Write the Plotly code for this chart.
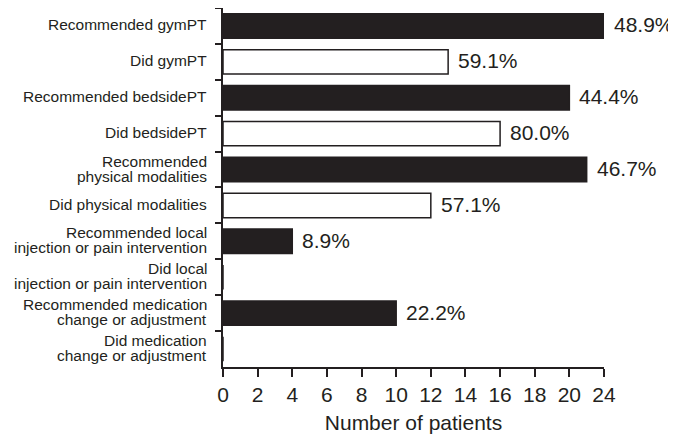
import plotly.graph_objects as go

# categories, top to bottom (lines of each label split with <br>)
categories = [
    "Recommended gymPT",
    "Did gymPT",
    "Recommended bedsidePT",
    "Did bedsidePT",
    "Recommended<br>physical modalities",
    "Did physical modalities",
    "Recommended local<br>injection or pain intervention",
    "Did local<br>injection or pain intervention",
    "Recommended medication<br>change or adjustment",
    "Did medication<br>change or adjustment",
]
patients = [22, 13, 20, 16, 21, 12, 4, 0, 10, 0]
pct_labels = ["48.9%", "59.1%", "44.4%", "80.0%", "46.7%", "57.1%", "8.9%", "", "22.2%", ""]
recommended = [True, False, True, False, True, False, True, False, True, False]

# the original axis skips 22 and labels the last tick 24
tick_vals = [0, 2, 4, 6, 8, 10, 12, 14, 16, 18, 20, 22]
tick_text = ["0", "2", "4", "6", "8", "10", "12", "14", "16", "18", "20", "24"]

INK = "#231f20"
FONT = "Liberation Sans, Arial, sans-serif"

fill = [INK if r else "white" for r in recommended]

fig = go.Figure()
fig.add_trace(go.Bar(
    x=patients, y=categories, orientation="h",
    marker=dict(color=fill, line=dict(color=INK, width=1.5)),
    width=0.68, hoverinfo="x",
))

# percentage labels just right of each bar
for cat, val, lab in zip(categories, patients, pct_labels):
    if lab:
        fig.add_annotation(x=val, y=cat, text=lab, showarrow=False,
                           xanchor="left", xshift=8, yshift=1,
                           font=dict(family=FONT, size=21, color=INK))

# category labels drawn by hand so the two-line ones stay tight
for cat in categories:
    lines = cat.split("<br>")
    n = len(lines)
    for i, line in enumerate(lines):
        fig.add_annotation(x=0, xref="paper", y=cat, text=line, showarrow=False,
                           xanchor="right", xshift=-15, borderpad=0,
                           yshift=(n - 1) * 7.5 - i * 15 + 1,
                           font=dict(family=FONT, size=15.5, color=INK))

# page body has an 8px margin, so the figure is a bit smaller than the window
fig.update_layout(
    width=668, height=430,
    margin=dict(l=215, r=72, t=0, b=71),
    plot_bgcolor="white", paper_bgcolor="white",
    showlegend=False, bargap=0.32,
    font=dict(family=FONT, color=INK),
    xaxis=dict(range=[0, 22], tickvals=tick_vals, ticktext=tick_text,
               showgrid=False, zeroline=False, showline=True, automargin=False,
               linecolor=INK, linewidth=1.5, ticks="outside", ticklen=8,
               tickwidth=1.5, tickcolor=INK, tickfont=dict(size=21, color=INK),
               title=dict(text="Number of patients", font=dict(size=21, color=INK), standoff=10)),
    yaxis=dict(autorange="reversed", showgrid=False, zeroline=False,
               showline=True, linecolor=INK, linewidth=1.5, automargin=False,
               ticks="outside", tickson="boundaries", ticklen=6,
               tickwidth=1.5, tickcolor=INK, showticklabels=False),
)

fig.write_html("out.html")
